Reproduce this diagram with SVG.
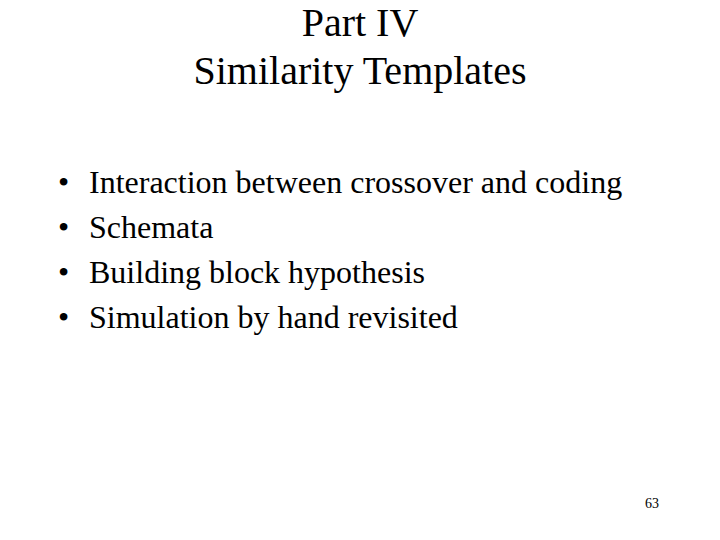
<svg xmlns="http://www.w3.org/2000/svg" width="720" height="540" viewBox="0 0 720 540">
<style>
text{font-family:"Liberation Serif","Times New Roman",serif;fill:#000}
.t{font-size:40px;text-anchor:middle}
.b{font-size:32px}
</style>
<rect width="720" height="540" fill="#fff"/>
<g id="title">
<text class="t" x="360" y="36">Part IV</text>
<text class="t" x="360" y="84">Similarity Templates</text>
</g>
<g id="bullets">
<text class="b" x="58" y="193">•</text><text class="b" x="89" y="193">Interaction between crossover and coding</text>
<text class="b" x="58" y="238">•</text><text class="b" x="89" y="238">Schemata</text>
<text class="b" x="58" y="283">•</text><text class="b" x="89" y="283">Building block hypothesis</text>
<text class="b" x="58" y="328">•</text><text class="b" x="89" y="328">Simulation by hand revisited</text>
</g>
<text x="645" y="508" style="font-size:14px">63</text>
</svg>
